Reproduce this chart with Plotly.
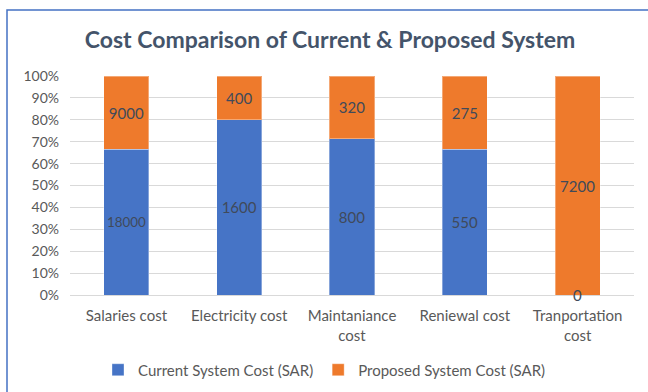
import plotly.graph_objects as go

categories = ["Salaries cost", "Electricity cost", "Maintaniance<br>cost", "Reniewal cost", "Tranportation<br>cost"]
current_cost = [18000, 1600, 800, 550, 0]
proposed_cost = [9000, 400, 320, 275, 7200]
series_names = ["Current System Cost (SAR)", "Proposed System Cost (SAR)"]
y_ticks = [0, 10, 20, 30, 40, 50, 60, 70, 80, 90, 100]

FONT = "Lato, Open Sans, sans-serif"
BLUE = "#4674C6"
ORANGE = "#EE7A2C"
LABEL = "#404A5A"

fig = go.Figure()
for vals, name, col in [(current_cost, series_names[0], BLUE), (proposed_cost, series_names[1], ORANGE)]:
    fig.add_trace(go.Bar(
        x=categories, y=vals, name=name,
        marker=dict(color=col, line=dict(color="rgba(255,255,255,0.35)", width=1)),
        text=[str(v) for v in vals], textposition="inside",
        insidetextanchor="middle", textangle=0,
        textfont=dict(family=FONT, size=15, color=LABEL),
        width=0.4,
    ))

# zero-height labels that plotly hides inside bars
for cat, c in zip(categories, current_cost):
    if c == 0:
        fig.add_annotation(x=cat, y=0, text=str(c), showarrow=False,
                           xref="x", yref="y", yanchor="middle",
                           font=dict(family=FONT, size=15, color=LABEL))

# outer chart frame
fig.add_shape(type="rect", xref="paper", yref="paper",
              x0=(7 - 70) / 564, x1=1.2, y0=-0.6, y1=1 + (76 - 10) / 219,
              line=dict(color="#4472C4", width=1.5), layer="below")

fig.update_layout(
    width=648, height=392,
    margin=dict(l=70, r=14, t=76, b=97, autoexpand=False),
    barmode="stack", barnorm="percent",
    plot_bgcolor="white", paper_bgcolor="white",
    title=dict(text="Cost Comparison of Current & Proposed System",
               font=dict(family=FONT, size=23, color="#44546A", weight=700),
               x=(330 - 70) / 564, xref="paper", xanchor="center",
               y=1 - 40 / 392, yref="container", yanchor="middle"),
    xaxis=dict(showgrid=False, showline=False, ticks="", automargin=False,
               ticklabelstandoff=10,
               tickfont=dict(family=FONT, size=15, color="#595959")),
    yaxis=dict(range=[0, 100], tickvals=y_ticks, automargin=False,
               ticktext=[f"{v}%" for v in y_ticks],
               showgrid=True, gridcolor="#D9D9D9", gridwidth=1,
               zeroline=True, zerolinecolor="#D9D9D9", zerolinewidth=1,
               showline=False, ticks="", ticklabelstandoff=10,
               tickfont=dict(family=FONT, size=14, color="#595959")),
    legend=dict(orientation="h", x=(98 - 70) / 564, xanchor="left",
                y=-(370 - 295) / 219, yanchor="middle",
                font=dict(family=FONT, size=15, color="#595959"),
                traceorder="normal", itemwidth=30),
    showlegend=True,
)

fig.write_html("out.html")
